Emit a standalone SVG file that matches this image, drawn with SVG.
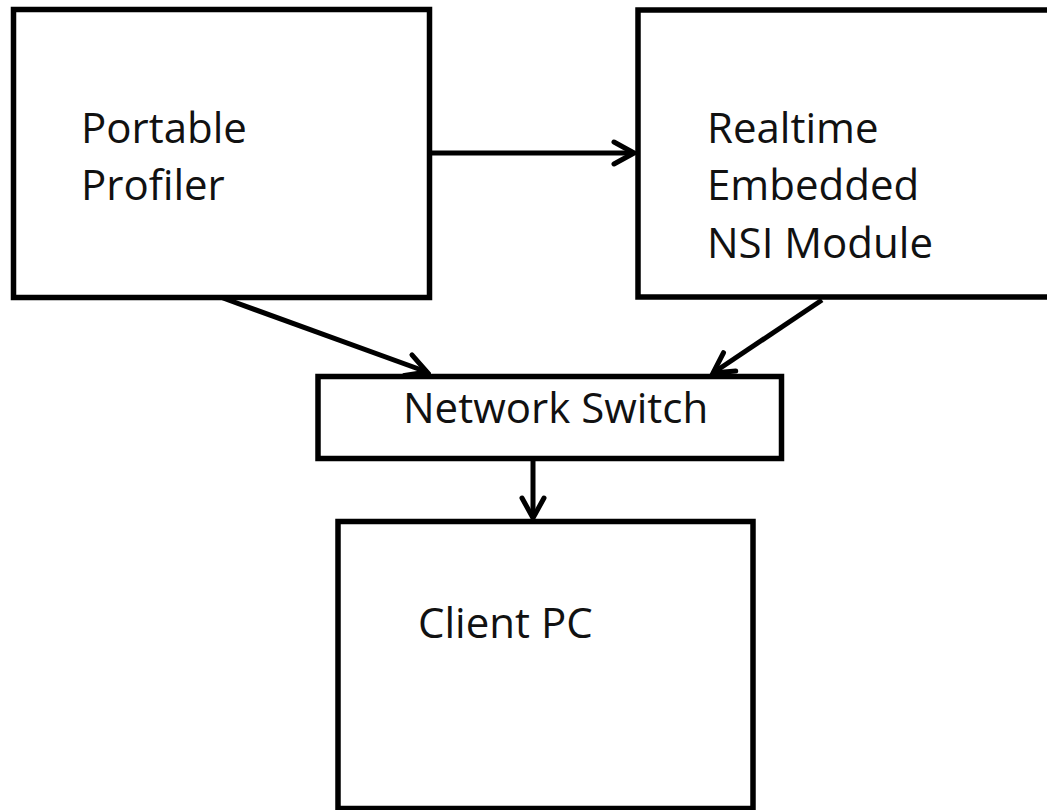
<svg xmlns="http://www.w3.org/2000/svg" width="1047" height="810" viewBox="0 0 1047 810">
  <style>
    .box { fill: #ffffff; stroke: #000000; stroke-width: 5.5; }
    .label { font-family: "Open Sans", "Noto Sans", sans-serif; font-size: 42px; fill: #111111; }
    .wire { fill: none; stroke: #000000; stroke-width: 5; }
  </style>
  <defs>
    <marker id="head" markerUnits="userSpaceOnUse" markerWidth="28" markerHeight="30" viewBox="0 0 28 30" refX="24" refY="15" orient="auto">
      <path d="M4,4 L24,15 L4,26" fill="none" stroke="#000000" stroke-width="5" stroke-linejoin="miter" stroke-linecap="round"/>
    </marker>
  </defs>
  <rect width="1047" height="810" fill="#ffffff"/>

  <g id="portable-profiler">
    <rect class="box" x="13.5" y="9.5" width="416" height="288"/>
    <text class="label" x="81" y="143">Portable</text>
    <text class="label" x="81" y="200">Profiler</text>
  </g>

  <g id="nsi-module">
    <rect class="box" x="638" y="10" width="430" height="287"/>
    <text class="label" x="707" y="143">Realtime</text>
    <text class="label" x="707" y="200">Embedded</text>
    <text class="label" x="707" y="258">NSI Module</text>
  </g>

  <g id="network-switch">
    <rect class="box" x="318" y="376.5" width="463.5" height="82"/>
    <text class="label" x="403" y="423">Network Switch</text>
  </g>

  <g id="client-pc">
    <rect class="box" x="338" y="521.5" width="415" height="287"/>
    <text class="label" x="418" y="638">Client PC</text>
  </g>

  <g id="connectors">
    <line class="wire" x1="430" y1="153" x2="634" y2="153" marker-end="url(#head)"/>
    <line class="wire" x1="223" y1="298" x2="427" y2="372" marker-end="url(#head)"/>
    <line class="wire" x1="822" y1="300" x2="713" y2="373" marker-end="url(#head)"/>
    <line class="wire" x1="533" y1="460" x2="533" y2="518" marker-end="url(#head)"/>
  </g>
</svg>
